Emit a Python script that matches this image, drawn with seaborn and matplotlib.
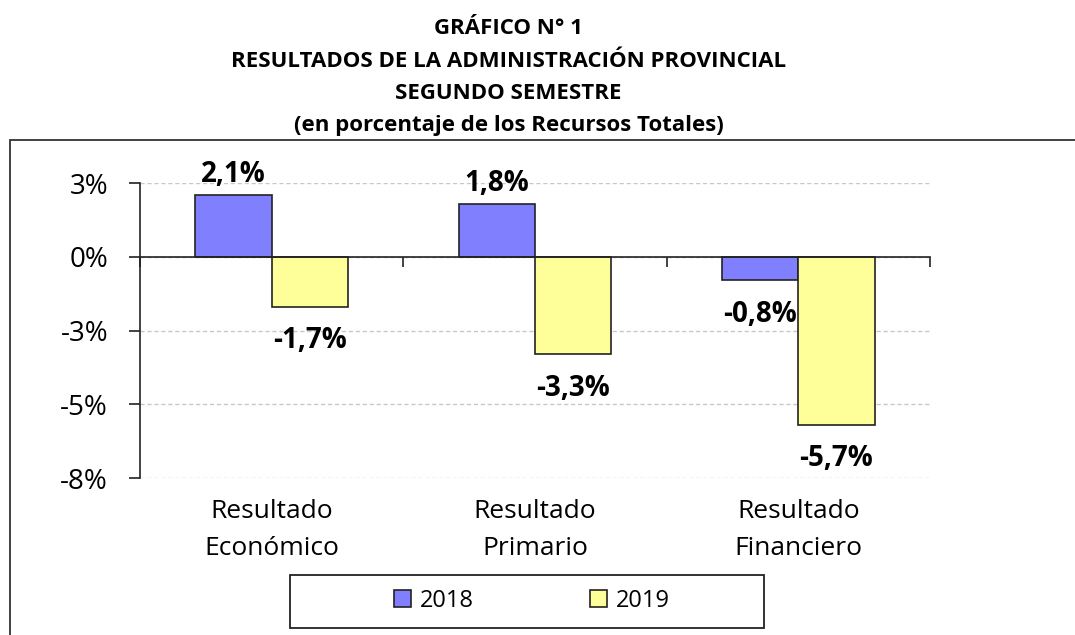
import numpy as np
import pandas as pd
import seaborn as sns
from matplotlib import pyplot as plt
from matplotlib.patches import Rectangle, Patch

# Data
categories = ['Resultado\nEconómico', 'Resultado\nPrimario', 'Resultado\nFinanciero']
years = ['2018', '2019']
values2018 = [0.021, 0.018, -0.008]
values2019 = [-0.017, -0.033, -0.057]
ytickValues = [0.025, 0.0, -0.025, -0.05, -0.075]
ytickLabels = ['3%', '0%', '-3%', '-5%', '-8%']
titleLines = ['GRÁFICO N° 1',
              'RESULTADOS DE LA ADMINISTRACIÓN PROVINCIAL',
              'SEGUNDO SEMESTRE',
              '(en porcentaje de los Recursos Totales)']
colors = {'2018': '#8080FF', '2019': '#FFFF99'}

data = pd.DataFrame({
    'categoria': categories * 2,
    'anio': [years[0]] * 3 + [years[1]] * 3,
    'valor': values2018 + values2019,
})

sns.set_style('white')
plt.rcParams['font.family'] = ['Open Sans', 'DejaVu Sans']
plt.rcParams['text.color'] = 'black'
plt.rcParams['xtick.color'] = 'black'
plt.rcParams['ytick.color'] = 'black'

fig = plt.figure(figsize=(10.75, 6.35), dpi=100)
ax = fig.add_axes([0.1302, 0.2472, 0.7349, 0.4646])

sns.barplot(data=data, x='categoria', y='valor', hue='anio', order=categories,
            hue_order=years, palette=colors, saturation=1, width=0.58,
            edgecolor='#222222', linewidth=1.2, legend=False, ax=ax)

ax.set_xlim(-0.5, len(categories) - 0.5)
ax.set_ylim(ytickValues[-1], ytickValues[0])
ax.set_xlabel('')
ax.set_ylabel('')

# y axis
ax.set_yticks(ytickValues)
ax.set_yticklabels(ytickLabels)
ax.tick_params(axis='y', direction='out', length=8, width=1.2, pad=15,
               labelsize=20, left=True, color='#222222', labelcolor='black')
ax.yaxis.grid(True, linestyle=(0, (3, 2)), color='#c8c8c8', linewidth=1)
ax.set_axisbelow(True)

# x axis crossing at zero, ticks between categories
for side in ['top', 'right']:
    ax.spines[side].set_visible(False)
ax.spines['left'].set_color('#222222')
ax.spines['left'].set_linewidth(1.2)
ax.spines['bottom'].set_position(('data', 0))
ax.spines['bottom'].set_color('#222222')
ax.spines['bottom'].set_linewidth(1.2)
ax.set_xticks(np.arange(len(categories) + 1) - 0.5)
ax.tick_params(axis='x', direction='out', length=7, width=1.2, bottom=True,
               labelbottom=False, color='#222222')

# category labels below the plot area
sec = ax.secondary_xaxis('bottom')
sec.set_xticks(range(len(categories)), labels=categories)
sec.tick_params(length=0, pad=15, labelsize=19, labelcolor='black')
sec.spines['bottom'].set_visible(False)
for label in sec.get_xticklabels():
    label.set_linespacing(1.65)

# data labels
for container in ax.containers:
    for bar in container:
        height = bar.get_height()
        text = f'{height * 100:.1f}%'.replace('.', ',')
        offset = 4 if height >= 0 else -14
        ax.annotate(text, xy=(bar.get_x() + bar.get_width() / 2, height),
                    xytext=(0, offset), textcoords='offset points',
                    ha='center', va='bottom' if height >= 0 else 'top',
                    fontsize=20, fontweight='bold', color='black')

# title
for i, line in enumerate(titleLines):
    fig.text(0.473, 1 - (29 + 32.3 * i) / 635, line, ha='center', va='center',
             fontsize=16, fontweight='bold', color='black')

# outer frame of the chart area
fig.patches.append(Rectangle((9.5 / 1075, -0.1), 2, 1 - 140 / 635 + 0.1,
                             transform=fig.transFigure, fill=False,
                             edgecolor='#333333', linewidth=1.3))

# legend with its own box
handles = [Patch(facecolor=colors[y], edgecolor='#222222', linewidth=1.2) for y in years]
fig.legend(handles, years, loc='center', bbox_to_anchor=(0.495, 0.0535), ncol=2,
           frameon=False, fontsize=17, handlelength=0.7, handleheight=0.7,
           handletextpad=0.4, columnspacing=4.9)
fig.patches.append(Rectangle((290 / 1075, 1 - 628 / 635), 474 / 1075, 53 / 635,
                             transform=fig.transFigure, fill=False,
                             edgecolor='#222222', linewidth=1.3))

plt.savefig('out.png', dpi=100)
